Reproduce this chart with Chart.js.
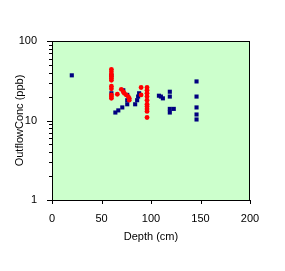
<!DOCTYPE html>
<html>
<head>
<meta charset="utf-8">
<script src="https://cdn.jsdelivr.net/npm/chart.js@4/dist/chart.umd.min.js"></script>
<style>
  html, body { margin: 0; padding: 0; background: #ffffff; }
  #wrap { width: 285px; height: 271px; }
</style>
</head>
<body>
<div id="wrap"><canvas id="chart" width="285" height="271"></canvas></div>
<script>
// Valores
const blueDepth = [20, 60, 60, 64, 67, 71, 72, 76, 76, 76, 84, 86, 87, 88, 108, 110, 112, 119, 119, 119, 119, 123, 146, 146, 146, 146, 146];
const blueConc  = [37, 37, 22, 12.6, 13.4, 14.6, 24, 21, 18, 16, 16, 18, 20, 22, 20.5, 20, 19, 23, 20, 14, 12.6, 14, 31, 20, 14.6, 11.9, 10.3];

const redDepth = [60, 60, 60, 60, 60, 60, 60, 60, 60, 60, 60, 66, 70, 72, 73, 75, 77, 78, 78, 90, 90, 96, 96, 96, 96, 96, 96, 96, 96, 96, 96];
const redConc  = [44, 41, 38, 36, 34, 32, 27, 25, 21, 20, 19, 21.4, 24.7, 23, 22, 21, 20, 19, 18, 26, 21, 26, 24, 22, 20, 18, 16, 15, 14, 13, 10.9];

const xTicks = [0, 50, 100, 150, 200];
const yMajor = [1, 10, 100];

function pts(xs, ys) {
  return xs.map(function(x, i) { return { x: x, y: ys[i] }; });
}

// Fundo verde, borda e marcas dos eixos
const plotFrame = {
  id: 'plotFrame',
  beforeDraw: function(chart) {
    const a = chart.chartArea;
    const c = chart.ctx;
    c.save();
    c.fillStyle = '#CCFFCC';
    c.fillRect(a.left, a.top, a.right - a.left, a.bottom - a.top);
    c.restore();
  },
  afterDraw: function(chart) {
    const a = chart.chartArea;
    const c = chart.ctx;
    const xs = chart.scales.x;
    const ys = chart.scales.y;
    c.save();
    c.strokeStyle = '#000000';
    c.lineWidth = 1;
    c.strokeRect(a.left + 0.5, a.top + 0.5, a.right - a.left - 1, a.bottom - a.top);
    c.beginPath();
    xTicks.forEach(function(v) {
      const px = Math.round(xs.getPixelForValue(v)) + 0.5;
      c.moveTo(px, a.bottom);
      c.lineTo(px, a.bottom + 4);
    });
    for (let d = 1; d <= 100; d *= 10) {
      for (let k = 1; k <= 9; k++) {
        const v = d * k;
        if (v > 100) break;
        const py = Math.round(ys.getPixelForValue(v)) + 0.5;
        const len = (k === 1) ? 5 : 3;
        c.moveTo(a.left, py);
        c.lineTo(a.left - len, py);
      }
    }
    c.stroke();
    c.restore();
  }
};

const ctx = document.getElementById('chart').getContext('2d');
new Chart(ctx, {
  type: 'scatter',
  data: {
    datasets: [
      {
        label: 'Red',
        data: pts(redDepth, redConc),
        backgroundColor: '#FF0000',
        borderColor: '#FF0000',
        pointStyle: 'circle',
        pointRadius: 2.4,
        borderWidth: 0,
        order: 0
      },
      {
        label: 'Blue',
        data: pts(blueDepth, blueConc),
        backgroundColor: '#000080',
        borderColor: '#000080',
        pointStyle: 'rect',
        pointRadius: 2.9,
        borderWidth: 0,
        order: 1
      }
    ]
  },
  options: {
    responsive: false,
    animation: false,
    layout: { padding: { left: 0, top: 41, right: 35, bottom: 0 } },
    plugins: {
      legend: { display: false },
      tooltip: { enabled: false }
    },
    scales: {
      x: {
        type: 'linear',
        min: 0,
        max: 200,
        afterFit: function(s) { s.height = 71; },
        afterBuildTicks: function(s) { s.ticks = xTicks.map(function(v) { return { value: v }; }); },
        grid: { display: false },
        border: { display: false },
        ticks: {
          color: '#000000',
          font: { family: 'Liberation Sans', size: 11 },
          padding: 4,
          maxRotation: 0
        },
        title: {
          display: true,
          text: 'Depth (cm)',
          color: '#000000',
          font: { family: 'Liberation Sans', size: 11 },
          padding: { top: 0, bottom: 27 }
        }
      },
      y: {
        type: 'logarithmic',
        min: 1,
        max: 100,
        afterFit: function(s) { s.width = 52; },
        afterBuildTicks: function(s) { s.ticks = yMajor.map(function(v) { return { value: v }; }); },
        grid: { display: false },
        border: { display: false },
        ticks: {
          color: '#000000',
          font: { family: 'Liberation Sans', size: 11 },
          padding: 7,
          callback: function(v) { return String(v); }
        },
        title: {
          display: true,
          text: 'OutflowConc (ppb)',
          color: '#000000',
          font: { family: 'Liberation Sans', size: 11 },
          padding: { top: 13, bottom: 0 }
        }
      }
    }
  },
  plugins: [plotFrame]
});
</script>
</body>
</html>
